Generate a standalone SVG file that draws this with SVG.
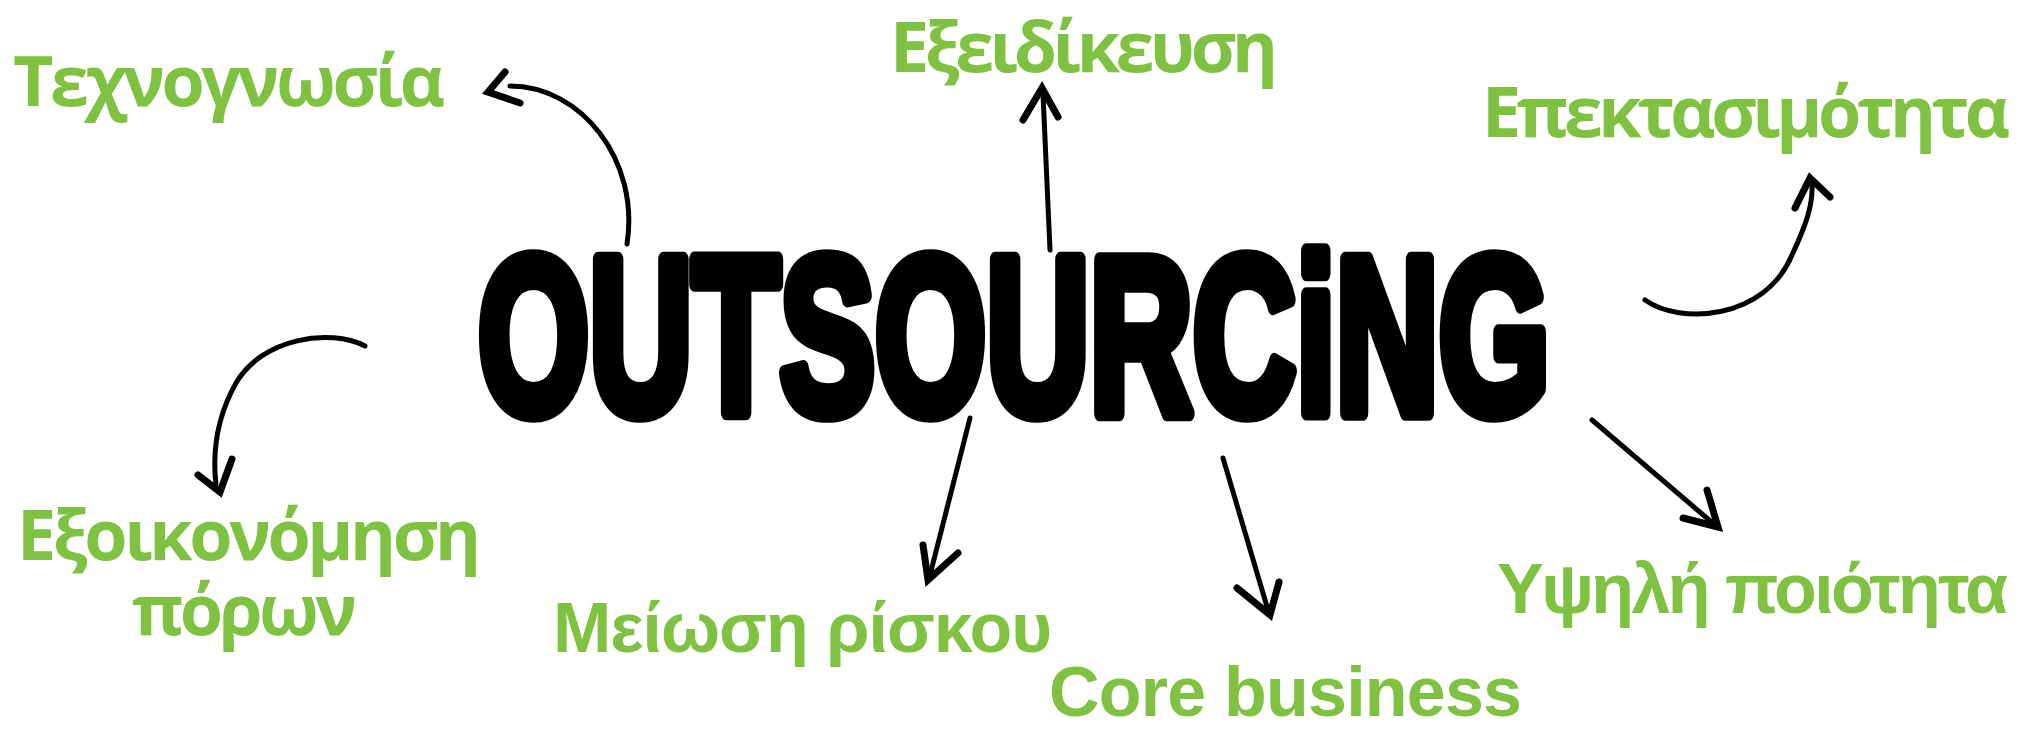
<svg xmlns="http://www.w3.org/2000/svg" width="2028" height="731" viewBox="0 0 2028 731">
<style>
.lbl{fill:#7FC241;font-weight:bold;font-size:70px}
.h{font-family:"Open Sans","Noto Sans","DejaVu Sans",sans-serif}
.a{font-family:"Liberation Sans",Arial,sans-serif}
.shaft{fill:none;stroke:#000;stroke-width:5;stroke-linecap:round;stroke-linejoin:round}
.head{fill:none;stroke:#000;stroke-width:7;stroke-linecap:round;stroke-linejoin:miter}
.brush{font-family:"Liberation Sans",Arial,sans-serif;font-weight:bold;font-size:144px;fill:#000;stroke:#000;stroke-width:10;stroke-linejoin:round}
</style>
<rect width="2028" height="731" fill="#fff"/>
<g id="center">
<text class="brush" transform="translate(478,413) scale(1,1.55)" x="0" y="0" textLength="1072" lengthAdjust="spacingAndGlyphs">OUTSOURCiNG</text>
</g>
<g id="connectors">
<path class="shaft" d="M627,244 C640,160 581,86 510,86"/>
<path class="head" d="M505,72 L488,92 L520,103"/>
<path class="shaft" d="M1050,250 L1043,94"/>
<path class="head" d="M1023,120 L1042,88 L1058,117"/>
<path class="shaft" d="M1645,300 C1680,325 1765,320 1792,255 C1806,225 1813,205 1812,185"/>
<path class="head" d="M1795,208 L1810,178 L1830,197"/>
<path class="shaft" d="M365,346 C330,328 262,338 236,383 C218,415 212,450 216,485"/>
<path class="head" d="M198,475 L220,492 L232,459"/>
<path class="shaft" d="M970,418 L930,575"/>
<path class="head" d="M923,545 L928,580 L958,553"/>
<path class="shaft" d="M1223,458 L1268,610"/>
<path class="head" d="M1237,588 L1270,615 L1279,582"/>
<path class="shaft" d="M1592,420 L1715,525"/>
<path class="head" d="M1707,490 L1718,527 L1683,518"/>
</g>
<g id="n-technognosia"><text class="lbl h" x="13" y="106" textLength="432">Τεχνογνωσία</text></g>
<g id="n-exeidikeusi"><text class="lbl h" x="890" y="72" font-size="62" textLength="388">Εξειδίκευση</text></g>
<g id="n-epektasimotita"><text class="lbl h" x="1482" y="137" textLength="528">Επεκτασιμότητα</text></g>
<g id="n-exoikonomisi"><text class="lbl h"><tspan x="17" y="560" textLength="464">Εξοικονόμηση</tspan><tspan x="132" y="635" textLength="225">πόρων</tspan></text></g>
<g id="n-meiosi"><text class="lbl a" x="553" y="652" textLength="499">Μείωση ρίσκου</text></g>
<g id="n-core"><text class="lbl a" x="1049" y="716" font-size="69" textLength="473">Core business</text></g>
<g id="n-ypsili"><text class="lbl a" x="1497" y="613" textLength="511">Υψηλή ποιότητα</text></g>
</svg>
